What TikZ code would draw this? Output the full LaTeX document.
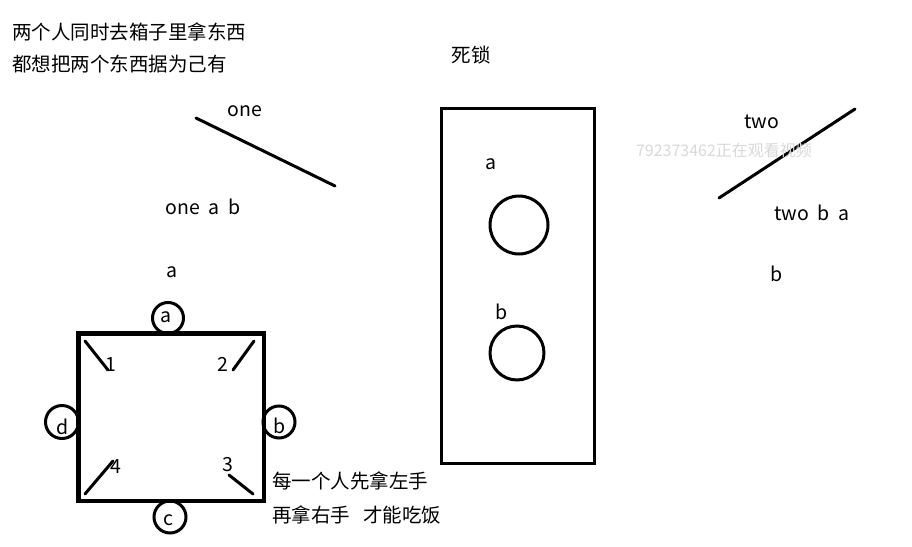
\documentclass[tikz,border=0pt]{standalone}
\usepackage{fontspec}
\setmainfont{Noto Sans CJK SC}
\begin{document}
\begin{tikzpicture}[x=1pt,y=-1pt,
  txt/.style={inner sep=0pt,font=\fontsize{19.5}{23}\selectfont},
  stroke/.style={line width=3pt,line cap=round},
  ring/.style={circle,draw,line width=3pt,inner sep=0pt}]
\useasboundingbox (0,0) rectangle (912,546);
\fill[white] (0,0) rectangle (912,546);
% top-left text
\node[txt,anchor=west] (t1) at (12,32) {两个人同时去箱子里拿东西};
\node[txt,anchor=west] (t2) at (12,64) {都想把两个东西据为己有};
\node[txt] (deadlock) at (471,55) {死锁};
% thread one
\coordinate (o1) at (196,118);
\coordinate (o2) at (335,186);
\draw[stroke] (o1) -- (o2);
\node[txt] (onel) at (245,111) {one};
\node[txt] (oneab) at (203,207) {one\ \ a\ \ b};
\node[txt] (aabove) at (172,272) {a};
% thread two
\coordinate (w1) at (719,198);
\coordinate (w2) at (855,109);
\draw[stroke] (w1) -- (w2);
\node[txt] (twol) at (762,122) {two};
\node[txt] (twoba) at (812,213) {two\ \ b\ \ a};
\node[txt] (bright) at (777,274) {b};
\node[inner sep=0pt,text=gray!30,font=\fontsize{16}{18}\selectfont] (overlay) at (724,150) {792373462正在观看视频};
% box
\node[draw,line width=3pt,minimum width=153pt,minimum height=355pt,inner sep=0pt] (box) at (517.5,285.5) {};
\node[txt] (ba) at (491,164) {a};
\node[ring,minimum size=58pt] (ca) at (519,225) {};
\node[txt] (bb) at (502,312) {b};
\node[ring,minimum size=54pt] (cb) at (517,353) {};
% table (square)
\node[draw,line width=3pt,minimum width=184pt,minimum height=166pt,inner sep=0pt] (sq) at (171,417) {};
\node[ring,minimum size=31pt,fill=white] (pa) at (168,318) {};
\node[txt] at (166,317) {a};
\node[ring,minimum size=33pt,fill=white] (pd) at (62,422) {};
\node[txt] at (63,427) {d};
\node[ring,minimum size=32pt,fill=white] (pb) at (279,422) {};
\node[txt] at (280,426) {b};
\node[ring,minimum size=32pt,fill=white] (pc) at (170,517) {};
\node[txt] at (168,520) {c};
\draw[line width=3pt] (sq.north west) -- (sq.north east) -- (sq.south east) -- (sq.south west) -- cycle;
% chopsticks
\coordinate (k1a) at (85,341); \coordinate (k1b) at (108,370);
\coordinate (k2a) at (254,341); \coordinate (k2b) at (233,370);
\coordinate (k4a) at (85,494); \coordinate (k4b) at (113,461);
\coordinate (k3a) at (253,494); \coordinate (k3b) at (229,475);
\draw[stroke] (k1a) -- (k1b);
\draw[stroke] (k2a) -- (k2b);
\draw[stroke] (k4a) -- (k4b);
\draw[stroke] (k3a) -- (k3b);
\node[txt] (n1) at (111,365) {1};
\node[txt] (n2) at (223,364) {2};
\node[txt] (n4) at (116,467) {4};
\node[txt] (n3) at (228,465) {3};
\node[txt,anchor=west] (r1) at (272,481) {每一个人先拿左手};
\node[txt,anchor=west] (r2) at (272,515) {再拿右手\ \ \ 才能吃饭};
\end{tikzpicture}
\end{document}
